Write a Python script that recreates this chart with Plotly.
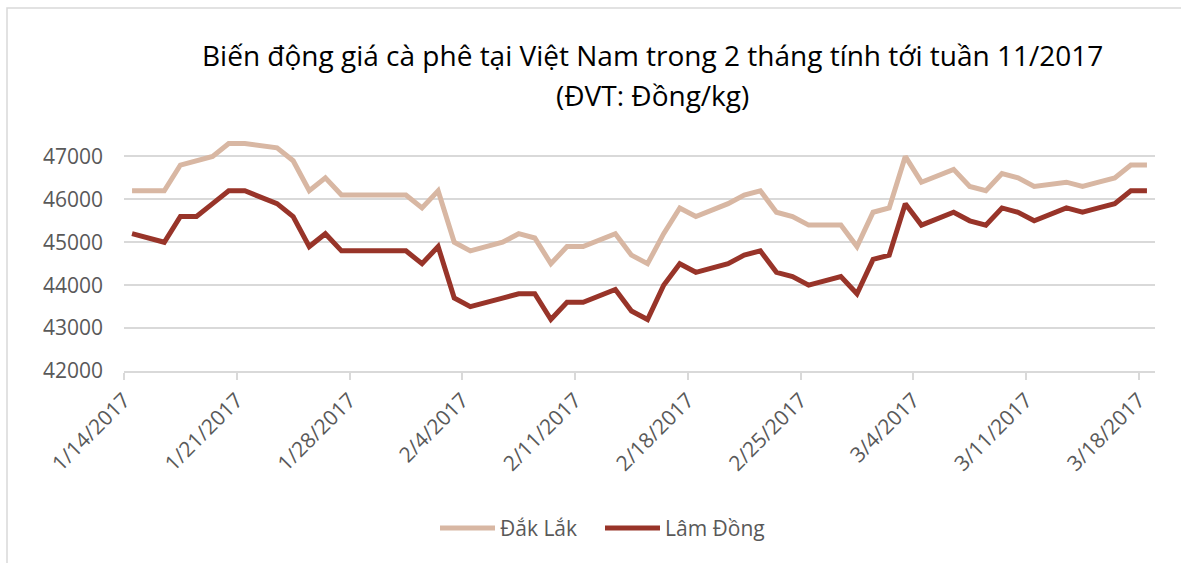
import plotly.graph_objects as go
import pandas as pd

dates = ["2017-01-14","2017-01-16","2017-01-17","2017-01-18","2017-01-19","2017-01-20","2017-01-21",
         "2017-01-23","2017-01-24","2017-01-25","2017-01-26","2017-01-27","2017-01-28",
         "2017-01-30","2017-01-31","2017-02-01","2017-02-02","2017-02-03","2017-02-04",
         "2017-02-06","2017-02-07","2017-02-08","2017-02-09","2017-02-10","2017-02-11",
         "2017-02-13","2017-02-14","2017-02-15","2017-02-16","2017-02-17","2017-02-18",
         "2017-02-20","2017-02-21","2017-02-22","2017-02-23","2017-02-24","2017-02-25",
         "2017-02-27","2017-02-28","2017-03-01","2017-03-02","2017-03-03","2017-03-04",
         "2017-03-06","2017-03-07","2017-03-08","2017-03-09","2017-03-10","2017-03-11",
         "2017-03-13","2017-03-14","2017-03-15","2017-03-16","2017-03-17","2017-03-18"]

dak_lak = [46200,46200,46800,46900,47000,47300,47300,
           47200,46900,46200,46500,46100,46100,
           46100,46100,45800,46200,45000,44800,
           45000,45200,45100,44500,44900,44900,
           45200,44700,44500,45200,45800,45600,
           45900,46100,46200,45700,45600,45400,
           45400,44900,45700,45800,47000,46400,
           46700,46300,46200,46600,46500,46300,
           46400,46300,46400,46500,46800,46800]

lam_dong = [45200,45000,45600,45600,45900,46200,46200,
            45900,45600,44900,45200,44800,44800,
            44800,44800,44500,44900,43700,43500,
            43700,43800,43800,43200,43600,43600,
            43900,43400,43200,44000,44500,44300,
            44500,44700,44800,44300,44200,44000,
            44200,43800,44600,44700,45900,45400,
            45700,45500,45400,45800,45700,45500,
            45800,45700,45800,45900,46200,46200]

tick_dates = ["2017-01-14","2017-01-21","2017-01-28","2017-02-04","2017-02-11",
              "2017-02-18","2017-02-25","2017-03-04","2017-03-11","2017-03-18"]
tick_labels = ["1/14/2017","1/21/2017","1/28/2017","2/4/2017","2/11/2017",
               "2/18/2017","2/25/2017","3/4/2017","3/11/2017","3/18/2017"]

series_names = ["Đắk Lắk", "Lâm Đồng"]
series_colors = ["#D8B7A3", "#983429"]

title_line1 = "Biến động giá cà phê tại Việt Nam trong 2 tháng tính tới tuần 11/2017"
title_line2 = "(ĐVT: Đồng/kg)"

W, H = 1181, 563
L, R, T, B = 124, 1155, 135, 371  # plot area in pixels

def px_x(p):
    return (p - L) / (R - L)

def px_y(p):
    return (B - p) / (B - T)

# Excel date axis places each day's point in the middle of its day slot
x_vals = pd.to_datetime(dates) + pd.Timedelta(hours=12)

FONT = "Open Sans"
TXT = "#595959"
GRID = "#D9D9D9"
LW = 5

fig = go.Figure()
for name, vals, col in zip(series_names, [dak_lak, lam_dong], series_colors):
    fig.add_trace(go.Scatter(x=x_vals, y=vals, mode="lines", name=name,
                             line=dict(color=col, width=LW), showlegend=False))

# custom legend (long line samples like the Excel legend)
legend_items = [(440, 495, 498), (605, 660, 663)]
shapes = [
    dict(type="rect", xref="paper", yref="paper", x0=px_x(7), y0=px_y(620),
         x1=px_x(1220), y1=px_y(8), line=dict(color=GRID, width=1.5), layer="below"),
]
annotations = [
    dict(text=title_line1, xref="paper", yref="paper", x=px_x(652), y=px_y(55),
         xanchor="center", yanchor="middle", showarrow=False,
         font=dict(size=28, color="#000000", family=FONT)),
    dict(text=title_line2, xref="paper", yref="paper", x=px_x(652), y=px_y(95),
         xanchor="center", yanchor="middle", showarrow=False,
         font=dict(size=28, color="#000000", family=FONT)),
]
for (x0, x1, xt), name, col in zip(legend_items, series_names, series_colors):
    shapes.append(dict(type="line", xref="paper", yref="paper", x0=px_x(x0), x1=px_x(x1),
                       y0=px_y(528), y1=px_y(528), line=dict(color=col, width=LW)))
    annotations.append(dict(text=name, xref="paper", yref="paper", x=px_x(xt), y=px_y(528),
                            xanchor="left", yanchor="middle", showarrow=False,
                            font=dict(size=21, color=TXT, family=FONT)))

fig.update_layout(
    width=W, height=H,
    margin=dict(l=L, r=W - R, t=T, b=H - B, pad=0, autoexpand=False),
    paper_bgcolor="white", plot_bgcolor="white",
    font=dict(family=FONT, color=TXT, size=21),
    showlegend=False,
    xaxis=dict(type="date", range=["2017-01-14", "2017-03-19"],
               tickvals=tick_dates, ticktext=tick_labels, tickangle=-45,
               ticks="outside", ticklen=7, tickcolor=GRID, tickwidth=1.5,
               showline=True, linecolor=GRID, linewidth=1.5, showgrid=False,
               zeroline=False, tickfont=dict(size=21, color=TXT), automargin=False),
    yaxis=dict(range=[42000, 47500], tick0=42000, dtick=1000, tickformat="d",
               showgrid=True, gridcolor=GRID, gridwidth=1.5, zeroline=False,
               showline=False, ticks="", tickfont=dict(size=21, color=TXT),
               ticklabelstandoff=20, automargin=False),
    annotations=annotations,
    shapes=shapes,
)

fig.write_html("out.html", config={"displayModeBar": False},
               post_script="document.body.style.margin='0px';document.body.style.overflow='hidden';")
